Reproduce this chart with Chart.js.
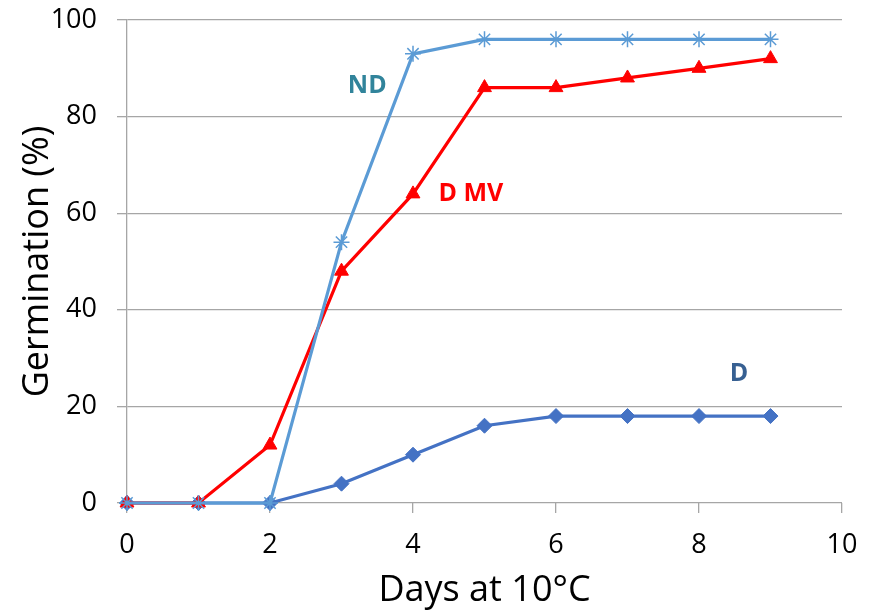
<!DOCTYPE html>
<html>
<head>
<meta charset="utf-8">
<script src="https://cdn.jsdelivr.net/npm/chart.js@4/dist/chart.umd.min.js"></script>
<style>
  html, body { margin: 0; padding: 0; background: #ffffff; }
  #wrap { width: 878px; height: 613px; position: relative; }
</style>
</head>
<body>
<div id="wrap"><canvas id="chart" width="878" height="613"></canvas></div>
<script>
// Days after transfer to 10 °C
const days = [0, 1, 2, 3, 4, 5, 6, 7, 8, 9];
// Cumulative germination (%) for each seed treatment
const ndValues  = [0, 0, 0, 54, 93, 96, 96, 96, 96, 96];
const dmvValues = [0, 0, 12, 48, 64, 86, 86, 88, 90, 92];
const dValues   = [0, 0, 0, 4, 10, 16, 18, 18, 18, 18];
// Axis ticks
const xTicks = [0, 2, 4, 6, 8, 10];
const yTicks = [0, 20, 40, 60, 80, 100];
// Series names written beside their curves
const seriesNames = ['ND', 'D MV', 'D'];

const FONT = "'Open Sans', 'Liberation Sans', sans-serif";
const GRID = '#a6a6a6';

const toPoints = vals => days.map((d, i) => ({ x: d, y: vals[i] }));

// Name labels placed in data coordinates
const nameLabels = [
  { text: seriesNames[0], x: 3.36, y: 86.3, color: '#31849b' },
  { text: seriesNames[1], x: 4.81, y: 64.0, color: '#ff0000' },
  { text: seriesNames[2], x: 8.56, y: 26.7, color: '#376092' }
];

const nameLabelPlugin = {
  id: 'nameLabels',
  afterDatasetsDraw(chart) {
    const { ctx, scales: { x, y } } = chart;
    ctx.save();
    ctx.font = "bold 25px " + FONT;
    ctx.textAlign = 'center';
    ctx.textBaseline = 'middle';
    nameLabels.forEach(l => {
      ctx.fillStyle = l.color;
      ctx.fillText(l.text, x.getPixelForValue(l.x), y.getPixelForValue(l.y));
    });
    ctx.restore();
  }
};

new Chart(document.getElementById('chart'), {
  type: 'line',
  data: {
    datasets: [
      {
        label: seriesNames[0],
        data: toPoints(ndValues),
        borderColor: '#5b9bd5',
        backgroundColor: '#5b9bd5',
        borderWidth: 3.2,
        pointStyle: 'star',
        pointRadius: 8,
        pointBorderWidth: 1.5,
        pointBorderColor: '#5b9bd5',
        clip: false
      },
      {
        label: seriesNames[1],
        data: toPoints(dmvValues),
        borderColor: '#ff0000',
        backgroundColor: '#ff0000',
        borderWidth: 3.2,
        pointStyle: 'triangle',
        pointRadius: 8,
        pointBorderWidth: 1,
        pointBorderColor: '#ff0000',
        pointBackgroundColor: '#ff0000',
        clip: false
      },
      {
        label: seriesNames[2],
        data: toPoints(dValues),
        borderColor: '#4472c4',
        backgroundColor: '#4472c4',
        borderWidth: 3.2,
        pointStyle: 'rectRot',
        pointRadius: 7.5,
        pointBorderWidth: 1,
        pointBorderColor: '#4472c4',
        pointBackgroundColor: '#4472c4',
        clip: false
      }
    ]
  },
  options: {
    responsive: false,
    animation: false,
    events: [],
    layout: { padding: { left: 0, top: 20, right: 36, bottom: 0 } },
    plugins: {
      legend: { display: false },
      tooltip: { enabled: false }
    },
    elements: { line: { tension: 0 } },
    scales: {
      x: {
        type: 'linear',
        min: 0,
        max: 10,
        afterBuildTicks: s => { s.ticks = xTicks.map(v => ({ value: v })); },
        afterFit: s => { s.height = 110; s.paddingLeft = 0; s.paddingRight = 0; },
        ticks: {
          color: '#000000',
          font: { family: FONT, size: 27 },
          padding: 16,
          maxRotation: 0
        },
        grid: {
          drawOnChartArea: false,
          drawTicks: true,
          tickLength: 10,
          color: GRID,
          lineWidth: 1.3
        },
        border: { display: false },
        title: {
          display: true,
          text: 'Days at 10°C',
          color: '#000000',
          font: { family: FONT, size: 36 },
          padding: { top: 0, bottom: 1 }
        }
      },
      y: {
        min: 0,
        max: 100,
        afterBuildTicks: s => { s.ticks = yTicks.map(v => ({ value: v })); },
        afterFit: s => { s.width = 127; s.paddingTop = 0; s.paddingBottom = 0; },
        ticks: {
          color: '#000000',
          font: { family: FONT, size: 27 },
          padding: 20
        },
        grid: {
          drawTicks: true,
          tickLength: 10,
          color: GRID,
          lineWidth: 1.3
        },
        border: { display: true, color: GRID, width: 1.3 },
        title: {
          display: true,
          text: 'Germination (%)',
          color: '#000000',
          font: { family: FONT, size: 36 },
          padding: { top: 16, bottom: 0 }
        }
      }
    }
  },
  plugins: [nameLabelPlugin]
});
</script>
</body>
</html>
